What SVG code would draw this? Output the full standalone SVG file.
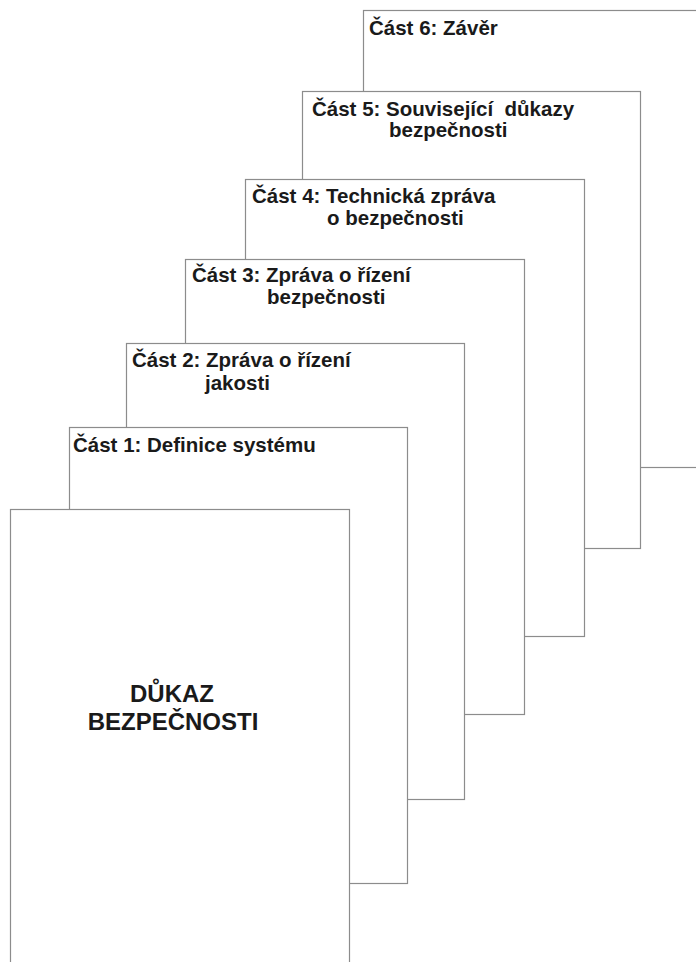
<svg xmlns="http://www.w3.org/2000/svg" width="696" height="962" viewBox="0 0 696 962">
  <style>
    .page { fill: #ffffff; stroke: #8c8c8c; stroke-width: 1.2; }
    .hd { font-family: "Liberation Sans", Arial, sans-serif; font-weight: bold; font-size: 20.5px; fill: #1a1a1a; white-space: pre; }
    .title { font-family: "Liberation Sans", Arial, sans-serif; font-weight: bold; font-size: 24px; fill: #1a1a1a; text-anchor: middle; }
  </style>
  <rect x="0" y="0" width="696" height="962" fill="#ffffff"/>

  <g id="part6">
    <rect class="page" x="363.5" y="10.5" width="339" height="457"/>
    <text class="hd" x="369" y="35">Část 6: Závěr</text>
  </g>

  <g id="part5">
    <rect class="page" x="302.5" y="91.5" width="338" height="457"/>
    <text class="hd" x="312" y="116" xml:space="preserve">Část 5: Související  důkazy</text>
    <text class="hd" x="389" y="137">bezpečnosti</text>
  </g>

  <g id="part4">
    <rect class="page" x="245.5" y="179.5" width="339" height="457"/>
    <text class="hd" x="252" y="203">Část 4: Technická zpráva</text>
    <text class="hd" x="327" y="225">o bezpečnosti</text>
  </g>

  <g id="part3">
    <rect class="page" x="185.5" y="259.5" width="339" height="455"/>
    <text class="hd" x="192" y="282">Část 3: Zpráva o řízení</text>
    <text class="hd" x="267" y="304">bezpečnosti</text>
  </g>

  <g id="part2">
    <rect class="page" x="126.5" y="343.5" width="338" height="456"/>
    <text class="hd" x="132" y="367">Část 2: Zpráva o řízení</text>
    <text class="hd" x="205" y="390">jakosti</text>
  </g>

  <g id="part1">
    <rect class="page" x="69.5" y="427.5" width="338" height="456"/>
    <text class="hd" x="73" y="452">Část 1: Definice systému</text>
  </g>

  <g id="main">
    <rect class="page" x="10.5" y="509.5" width="339" height="470"/>
    <text class="title" x="172" y="702">DŮKAZ</text>
    <text class="title" x="173" y="730">BEZPEČNOSTI</text>
  </g>
</svg>
